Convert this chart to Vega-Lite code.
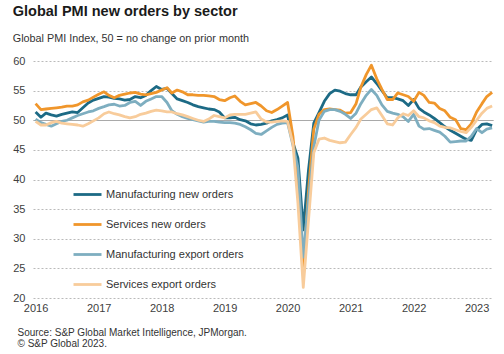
{
  "$schema": "https://vega.github.io/schema/vega-lite/v6.json",
  "width": 460,
  "height": 237,
  "padding": {"left": 12, "top": 3, "right": 5, "bottom": 2},
  "autosize": {"type": "pad"},
  "background": "white",
  "title": {
    "text": "Global PMI new orders by sector",
    "subtitle": "Global PMI Index, 50 = no change on prior month",
    "anchor": "start",
    "frame": "bounds",
    "font": "Liberation Sans",
    "fontSize": 14.5,
    "fontWeight": "bold",
    "color": "#1a1a1a",
    "subtitleFont": "Liberation Sans",
    "subtitleFontSize": 10.8,
    "subtitleColor": "#333333",
    "subtitlePadding": 14,
    "offset": 10
  },
  "config": {"view": {"stroke": null}, "font": "Liberation Sans"},
  "data": {"values": [
    {"date":"2016-01-01","Manufacturing new orders":51.4,"Services new orders":52.8,"Manufacturing export orders":50.2,"Services export orders":49.8},
    {"date":"2016-02-01","Manufacturing new orders":50.5,"Services new orders":51.8,"Manufacturing export orders":49.6,"Services export orders":49.2},
    {"date":"2016-03-01","Manufacturing new orders":51.2,"Services new orders":51.9,"Manufacturing export orders":49.3,"Services export orders":49.2},
    {"date":"2016-04-01","Manufacturing new orders":50.9,"Services new orders":52.0,"Manufacturing export orders":49.0,"Services export orders":49.6},
    {"date":"2016-05-01","Manufacturing new orders":50.7,"Services new orders":52.1,"Manufacturing export orders":49.4,"Services export orders":49.8},
    {"date":"2016-06-01","Manufacturing new orders":51.0,"Services new orders":52.2,"Manufacturing export orders":49.8,"Services export orders":49.5},
    {"date":"2016-07-01","Manufacturing new orders":51.2,"Services new orders":52.4,"Manufacturing export orders":50.0,"Services export orders":49.4},
    {"date":"2016-08-01","Manufacturing new orders":51.4,"Services new orders":52.4,"Manufacturing export orders":50.4,"Services export orders":49.3},
    {"date":"2016-09-01","Manufacturing new orders":51.3,"Services new orders":52.6,"Manufacturing export orders":50.8,"Services export orders":49.2},
    {"date":"2016-10-01","Manufacturing new orders":52.1,"Services new orders":53.1,"Manufacturing export orders":51.1,"Services export orders":49.0},
    {"date":"2016-11-01","Manufacturing new orders":52.9,"Services new orders":53.4,"Manufacturing export orders":51.4,"Services export orders":49.4},
    {"date":"2016-12-01","Manufacturing new orders":53.4,"Services new orders":53.9,"Manufacturing export orders":51.6,"Services export orders":49.9},
    {"date":"2017-01-01","Manufacturing new orders":53.7,"Services new orders":54.4,"Manufacturing export orders":52.0,"Services export orders":50.4},
    {"date":"2017-02-01","Manufacturing new orders":54.0,"Services new orders":54.8,"Manufacturing export orders":52.3,"Services export orders":51.1},
    {"date":"2017-03-01","Manufacturing new orders":53.9,"Services new orders":54.2,"Manufacturing export orders":52.6,"Services export orders":51.4},
    {"date":"2017-04-01","Manufacturing new orders":53.7,"Services new orders":53.8,"Manufacturing export orders":52.7,"Services export orders":51.1},
    {"date":"2017-05-01","Manufacturing new orders":53.6,"Services new orders":54.2,"Manufacturing export orders":52.4,"Services export orders":50.9},
    {"date":"2017-06-01","Manufacturing new orders":53.4,"Services new orders":54.4,"Manufacturing export orders":52.5,"Services export orders":50.6},
    {"date":"2017-07-01","Manufacturing new orders":53.5,"Services new orders":54.6,"Manufacturing export orders":53.0,"Services export orders":50.4},
    {"date":"2017-08-01","Manufacturing new orders":54.0,"Services new orders":54.7,"Manufacturing export orders":53.2,"Services export orders":50.6},
    {"date":"2017-09-01","Manufacturing new orders":53.8,"Services new orders":54.4,"Manufacturing export orders":52.5,"Services export orders":51.0},
    {"date":"2017-10-01","Manufacturing new orders":54.2,"Services new orders":54.3,"Manufacturing export orders":53.2,"Services export orders":51.2},
    {"date":"2017-11-01","Manufacturing new orders":55.0,"Services new orders":54.5,"Manufacturing export orders":53.6,"Services export orders":51.5},
    {"date":"2017-12-01","Manufacturing new orders":55.7,"Services new orders":54.7,"Manufacturing export orders":54.0,"Services export orders":51.7},
    {"date":"2018-01-01","Manufacturing new orders":55.2,"Services new orders":55.1,"Manufacturing export orders":54.0,"Services export orders":51.6},
    {"date":"2018-02-01","Manufacturing new orders":55.4,"Services new orders":55.5,"Manufacturing export orders":53.0,"Services export orders":51.4},
    {"date":"2018-03-01","Manufacturing new orders":54.5,"Services new orders":54.6,"Manufacturing export orders":51.6,"Services export orders":51.4},
    {"date":"2018-04-01","Manufacturing new orders":53.6,"Services new orders":55.1,"Manufacturing export orders":51.0,"Services export orders":51.1},
    {"date":"2018-05-01","Manufacturing new orders":53.3,"Services new orders":54.8,"Manufacturing export orders":50.6,"Services export orders":50.9},
    {"date":"2018-06-01","Manufacturing new orders":53.0,"Services new orders":54.3,"Manufacturing export orders":50.3,"Services export orders":50.6},
    {"date":"2018-07-01","Manufacturing new orders":52.6,"Services new orders":54.3,"Manufacturing export orders":50.1,"Services export orders":50.3},
    {"date":"2018-08-01","Manufacturing new orders":52.3,"Services new orders":54.2,"Manufacturing export orders":49.9,"Services export orders":50.0},
    {"date":"2018-09-01","Manufacturing new orders":52.1,"Services new orders":54.2,"Manufacturing export orders":49.7,"Services export orders":49.8},
    {"date":"2018-10-01","Manufacturing new orders":51.9,"Services new orders":54.1,"Manufacturing export orders":49.8,"Services export orders":50.2},
    {"date":"2018-11-01","Manufacturing new orders":51.8,"Services new orders":54.0,"Manufacturing export orders":49.8,"Services export orders":50.8},
    {"date":"2018-12-01","Manufacturing new orders":51.4,"Services new orders":53.5,"Manufacturing export orders":49.7,"Services export orders":50.6},
    {"date":"2019-01-01","Manufacturing new orders":50.4,"Services new orders":53.3,"Manufacturing export orders":49.6,"Services export orders":50.4},
    {"date":"2019-02-01","Manufacturing new orders":50.4,"Services new orders":53.8,"Manufacturing export orders":49.6,"Services export orders":50.9},
    {"date":"2019-03-01","Manufacturing new orders":50.5,"Services new orders":54.1,"Manufacturing export orders":49.5,"Services export orders":51.0},
    {"date":"2019-04-01","Manufacturing new orders":50.1,"Services new orders":53.2,"Manufacturing export orders":49.3,"Services export orders":51.0},
    {"date":"2019-05-01","Manufacturing new orders":49.9,"Services new orders":52.6,"Manufacturing export orders":48.9,"Services export orders":51.0},
    {"date":"2019-06-01","Manufacturing new orders":49.4,"Services new orders":52.8,"Manufacturing export orders":48.4,"Services export orders":51.2},
    {"date":"2019-07-01","Manufacturing new orders":49.2,"Services new orders":53.0,"Manufacturing export orders":47.8,"Services export orders":51.4},
    {"date":"2019-08-01","Manufacturing new orders":49.3,"Services new orders":52.4,"Manufacturing export orders":47.6,"Services export orders":50.2},
    {"date":"2019-09-01","Manufacturing new orders":49.5,"Services new orders":51.6,"Manufacturing export orders":48.2,"Services export orders":49.7},
    {"date":"2019-10-01","Manufacturing new orders":49.9,"Services new orders":51.3,"Manufacturing export orders":48.8,"Services export orders":49.7},
    {"date":"2019-11-01","Manufacturing new orders":50.1,"Services new orders":51.8,"Manufacturing export orders":49.3,"Services export orders":49.8},
    {"date":"2019-12-01","Manufacturing new orders":50.4,"Services new orders":52.4,"Manufacturing export orders":49.5,"Services export orders":49.9},
    {"date":"2020-01-01","Manufacturing new orders":50.9,"Services new orders":53.0,"Manufacturing export orders":49.6,"Services export orders":49.8},
    {"date":"2020-02-01","Manufacturing new orders":46.2,"Services new orders":47.3,"Manufacturing export orders":45.8,"Services export orders":46.0},
    {"date":"2020-03-01","Manufacturing new orders":43.6,"Services new orders":38.0,"Manufacturing export orders":42.0,"Services export orders":36.0},
    {"date":"2020-04-01","Manufacturing new orders":31.5,"Services new orders":24.8,"Manufacturing export orders":26.9,"Services export orders":21.8},
    {"date":"2020-05-01","Manufacturing new orders":41.5,"Services new orders":38.0,"Manufacturing export orders":36.5,"Services export orders":33.0},
    {"date":"2020-06-01","Manufacturing new orders":49.5,"Services new orders":48.5,"Manufacturing export orders":45.5,"Services export orders":44.5},
    {"date":"2020-07-01","Manufacturing new orders":51.3,"Services new orders":51.0,"Manufacturing export orders":50.0,"Services export orders":46.8},
    {"date":"2020-08-01","Manufacturing new orders":53.2,"Services new orders":51.8,"Manufacturing export orders":51.5,"Services export orders":47.0},
    {"date":"2020-09-01","Manufacturing new orders":54.5,"Services new orders":51.9,"Manufacturing export orders":51.8,"Services export orders":46.6},
    {"date":"2020-10-01","Manufacturing new orders":55.1,"Services new orders":51.8,"Manufacturing export orders":51.8,"Services export orders":46.4},
    {"date":"2020-11-01","Manufacturing new orders":54.9,"Services new orders":51.7,"Manufacturing export orders":51.5,"Services export orders":46.2},
    {"date":"2020-12-01","Manufacturing new orders":54.5,"Services new orders":51.2,"Manufacturing export orders":51.0,"Services export orders":46.3},
    {"date":"2021-01-01","Manufacturing new orders":54.3,"Services new orders":51.3,"Manufacturing export orders":50.3,"Services export orders":47.6},
    {"date":"2021-02-01","Manufacturing new orders":54.3,"Services new orders":52.8,"Manufacturing export orders":51.2,"Services export orders":48.8},
    {"date":"2021-03-01","Manufacturing new orders":55.6,"Services new orders":55.6,"Manufacturing export orders":52.8,"Services export orders":50.2},
    {"date":"2021-04-01","Manufacturing new orders":56.5,"Services new orders":57.7,"Manufacturing export orders":54.2,"Services export orders":51.0},
    {"date":"2021-05-01","Manufacturing new orders":57.3,"Services new orders":59.3,"Manufacturing export orders":55.2,"Services export orders":51.8},
    {"date":"2021-06-01","Manufacturing new orders":56.2,"Services new orders":57.0,"Manufacturing export orders":54.2,"Services export orders":52.1},
    {"date":"2021-07-01","Manufacturing new orders":55.0,"Services new orders":55.2,"Manufacturing export orders":52.6,"Services export orders":50.8},
    {"date":"2021-08-01","Manufacturing new orders":53.8,"Services new orders":53.5,"Manufacturing export orders":51.5,"Services export orders":49.4},
    {"date":"2021-09-01","Manufacturing new orders":53.8,"Services new orders":53.5,"Manufacturing export orders":51.2,"Services export orders":49.2},
    {"date":"2021-10-01","Manufacturing new orders":53.6,"Services new orders":54.6,"Manufacturing export orders":51.0,"Services export orders":50.4},
    {"date":"2021-11-01","Manufacturing new orders":53.3,"Services new orders":54.3,"Manufacturing export orders":50.6,"Services export orders":51.1},
    {"date":"2021-12-01","Manufacturing new orders":52.5,"Services new orders":54.0,"Manufacturing export orders":49.8,"Services export orders":50.8},
    {"date":"2022-01-01","Manufacturing new orders":53.5,"Services new orders":53.2,"Manufacturing export orders":51.0,"Services export orders":51.6},
    {"date":"2022-02-01","Manufacturing new orders":52.0,"Services new orders":54.7,"Manufacturing export orders":49.0,"Services export orders":50.6},
    {"date":"2022-03-01","Manufacturing new orders":51.4,"Services new orders":54.2,"Manufacturing export orders":48.5,"Services export orders":50.4},
    {"date":"2022-04-01","Manufacturing new orders":50.9,"Services new orders":53.0,"Manufacturing export orders":48.6,"Services export orders":49.9},
    {"date":"2022-05-01","Manufacturing new orders":50.3,"Services new orders":52.9,"Manufacturing export orders":48.3,"Services export orders":49.6},
    {"date":"2022-06-01","Manufacturing new orders":49.6,"Services new orders":52.0,"Manufacturing export orders":48.0,"Services export orders":49.0},
    {"date":"2022-07-01","Manufacturing new orders":48.9,"Services new orders":51.6,"Manufacturing export orders":47.3,"Services export orders":48.8},
    {"date":"2022-08-01","Manufacturing new orders":48.3,"Services new orders":50.5,"Manufacturing export orders":46.3,"Services export orders":48.7},
    {"date":"2022-09-01","Manufacturing new orders":47.8,"Services new orders":50.1,"Manufacturing export orders":46.4,"Services export orders":48.4},
    {"date":"2022-10-01","Manufacturing new orders":47.3,"Services new orders":48.6,"Manufacturing export orders":46.5,"Services export orders":48.1},
    {"date":"2022-11-01","Manufacturing new orders":46.8,"Services new orders":48.4,"Manufacturing export orders":46.5,"Services export orders":47.9},
    {"date":"2022-12-01","Manufacturing new orders":46.6,"Services new orders":49.4,"Manufacturing export orders":47.3,"Services export orders":48.8},
    {"date":"2023-01-01","Manufacturing new orders":48.4,"Services new orders":51.4,"Manufacturing export orders":48.6,"Services export orders":50.0},
    {"date":"2023-02-01","Manufacturing new orders":49.3,"Services new orders":52.8,"Manufacturing export orders":47.9,"Services export orders":51.2},
    {"date":"2023-03-01","Manufacturing new orders":49.4,"Services new orders":54.0,"Manufacturing export orders":48.5,"Services export orders":52.0},
    {"date":"2023-04-01","Manufacturing new orders":49.1,"Services new orders":54.7,"Manufacturing export orders":48.7,"Services export orders":52.4}
  ]},
  "transform": [
    {"fold": ["Manufacturing new orders", "Services new orders", "Manufacturing export orders", "Services export orders"], "as": ["series", "value"]}
  ],
  "mark": {"type": "line", "strokeWidth": 2.8, "strokeJoin": "round", "strokeCap": "butt"},
  "encoding": {
    "x": {
      "field": "date", "type": "temporal",
      "scale": {"type": "utc", "domain": [{"year": 2015, "month": 12, "date": 17, "utc": true}, {"year": 2023, "month": 4, "date": 6, "utc": true}]},
      "axis": {
        "values": [{"year": 2016, "utc": true}, {"year": 2017, "utc": true}, {"year": 2018, "utc": true}, {"year": 2019, "utc": true}, {"year": 2020, "utc": true}, {"year": 2021, "utc": true}, {"year": 2022, "utc": true}, {"year": 2023, "utc": true}],
        "format": "%Y",
        "ticks": false, "domain": false, "grid": false,
        "labelFontSize": 11, "labelColor": "#404040", "labelPadding": 4,
        "labelFlush": false, "labelOverlap": false,
        "title": ["Source: S&P Global Market Intelligence, JPMorgan.", "© S&P Global 2023."],
        "titleFontSize": 10, "titleFontWeight": "normal", "titleColor": "#333333",
        "titleAlign": "left", "titleBaseline": "alphabetic", "titleAnchor": "start",
        "titleX": -16, "titleY": 37.5, "titleLineHeight": 11
      }
    },
    "y": {
      "field": "value", "type": "quantitative",
      "scale": {"domain": [20, 60], "nice": false, "zero": false},
      "axis": {
        "values": [20, 25, 30, 35, 40, 45, 50, 55, 60],
        "ticks": false, "domain": false, "grid": true,
        "gridDash": {"condition": {"test": "datum.value === 50", "value": [1, 0]}, "value": [2, 2]},
        "gridColor": {"condition": {"test": "datum.value === 50", "value": "#8c8c8c"}, "value": "#a8a8a8"},
        "gridWidth": {"condition": {"test": "datum.value === 50", "value": 1}, "value": 0.8},
        "labelFontSize": 11, "labelColor": "#404040", "labelPadding": 8,
        "labelOverlap": false, "labelFlush": false,
        "title": null
      }
    },
    "color": {
      "field": "series", "type": "nominal",
      "scale": {
        "domain": ["Manufacturing new orders", "Services new orders", "Manufacturing export orders", "Services export orders"],
        "range": ["#1c6a85", "#f0962b", "#7eaec0", "#f8cc9b"]
      },
      "legend": {
        "orient": "none", "legendX": 39, "legendY": 118, "title": null,
        "symbolType": "stroke", "symbolSize": 784, "symbolStrokeWidth": 2.8,
        "labelFontSize": 11, "labelColor": "#333333", "labelFont": "Liberation Sans",
        "rowPadding": 8, "labelOffset": 3, "padding": 0
      }
    }
  }
}
